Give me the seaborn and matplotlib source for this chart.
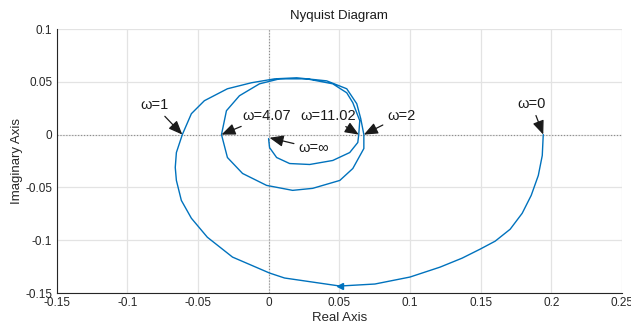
import numpy as np
import pandas as pd
import matplotlib
matplotlib.use('Agg')
import matplotlib.pyplot as plt
import seaborn as sns

sns.set_style('whitegrid')
plt.rcParams['font.family'] = ['Liberation Sans', 'DejaVu Sans']
plt.rcParams['axes.unicode_minus'] = False

# curva de Nyquist (parte real / imaginaria)
real_part = [0.1943, 0.1936, 0.1908, 0.1858, 0.1794, 0.1709, 0.1603, 0.1496,
             0.1369, 0.1213, 0.1000, 0.0752, 0.0504, 0.0113, 0.0007, -0.0255,
             -0.0433, -0.0546, -0.0617, -0.0652, -0.0660, -0.0652, -0.0610,
             -0.0546, -0.0454, -0.0291, -0.0121, 0.0043, 0.0199, 0.0411,
             0.0553, 0.0624, 0.0652, 0.0674, 0.0674, 0.0596, 0.0504, 0.0312,
             0.0170, -0.0014, -0.0184, -0.0291, -0.0333, -0.0298, -0.0206,
             -0.0064, 0.0078, 0.0270, 0.0454, 0.0553, 0.0596, 0.0645, 0.0638,
             0.0631, 0.0574, 0.0454, 0.0291, 0.0149, 0.0057, 0.0007, 0.0000]
imag_part = [0.0000, -0.0198, -0.0387, -0.0575, -0.0745, -0.0896, -0.1009,
             -0.1085, -0.1170, -0.1255, -0.1349, -0.1415, -0.1434, -0.1358,
             -0.1311, -0.1160, -0.0972, -0.0792, -0.0623, -0.0434, -0.0311,
             -0.0170, 0.0000, 0.0198, 0.0321, 0.0434, 0.0491, 0.0528, 0.0538,
             0.0509, 0.0434, 0.0292, 0.0151, 0.0000, -0.0132, -0.0321, -0.0434,
             -0.0509, -0.0528, -0.0481, -0.0368, -0.0217, 0.0000, 0.0226,
             0.0368, 0.0481, 0.0528, 0.0528, 0.0481, 0.0396, 0.0302, 0.0132,
             0.0000, -0.0075, -0.0170, -0.0245, -0.0283, -0.0274, -0.0217,
             -0.0123, -0.0038]

# rotulos das frequencias: texto, ponto alvo na curva
omega_labels = ['ω=0', 'ω=1', 'ω=4.07', 'ω=11.02', 'ω=2', 'ω=∞']
omega_target_x = [0.1943, -0.0610, -0.0333, 0.0638, 0.0674, 0.0007]
omega_target_y = [0.0, 0.0, 0.0, 0.0, 0.0, -0.0030]
omega_text_x = [0.186, -0.081, -0.001, 0.042, 0.094, 0.032]
omega_text_y = [0.029, 0.028, 0.018, 0.018, 0.018, -0.013]

xticks = [-0.15, -0.1, -0.05, 0, 0.05, 0.1, 0.15, 0.2, 0.25]
xtick_labels = ['-0.15', '-0.1', '-0.05', '0', '0.05', '0.1', '0.15', '0.2', '0.25']
yticks = [-0.15, -0.1, -0.05, 0, 0.05, 0.1]
ytick_labels = ['-0.15', '-0.1', '-0.05', '0', '0.05', '0.1']

df = pd.DataFrame({'re': real_part, 'im': imag_part})

fig = plt.figure(figsize=(6.31, 3.35), dpi=100)
ax = fig.add_axes([56.5 / 631, 1 - 293 / 335, (622 - 56.5) / 631, (293 - 29) / 335])

line_color = '#0072BD'
sns.lineplot(data=df, x='re', y='im', sort=False, estimator=None,
             color=line_color, linewidth=1.0, ax=ax)
# seta de direcao na parte inferior
ax.plot(df['re'][12], df['im'][12], marker='<', color=line_color, ms=5, mec=line_color)

ax.axhline(0, color='#8c8c8c', linestyle=':', linewidth=0.8, zorder=1)
ax.axvline(0, color='#8c8c8c', linestyle=':', linewidth=0.8, zorder=1)

for lab, tx, ty, px, py in zip(omega_labels, omega_text_x, omega_text_y,
                               omega_target_x, omega_target_y):
    ax.annotate(lab, xy=(px, py), xytext=(tx, ty), ha='center', va='center',
                fontsize=10.5, color='#1a1a1a',
                arrowprops=dict(arrowstyle='-|>,head_length=0.8,head_width=0.33',
                                color='#1a1a1a', lw=0.9, shrinkA=1, shrinkB=0))

ax.set_xlim(-0.15, 0.25)
ax.set_ylim(-0.15, 0.1)
ax.set_xticks(xticks)
ax.set_xticklabels(xtick_labels)
ax.set_yticks(yticks)
ax.set_yticklabels(ytick_labels)
ax.grid(True, color='#e3e3e3', linewidth=0.9)
ax.tick_params(direction='in', length=4, width=0.8, colors='#262626',
               labelsize=8.5, pad=3)
for side in ['top', 'right']:
    ax.spines[side].set_visible(False)
for side in ['left', 'bottom']:
    ax.spines[side].set_color('#262626')
    ax.spines[side].set_linewidth(0.8)

ax.set_xlabel('Real Axis', fontsize=9.5, color='#262626', labelpad=2)
ax.set_ylabel('Imaginary Axis', fontsize=9.5, color='#262626', labelpad=2)
ax.set_title('Nyquist Diagram', fontsize=9.5, color='#1a1a1a', pad=7)

fig.savefig('out.png', dpi=100)
